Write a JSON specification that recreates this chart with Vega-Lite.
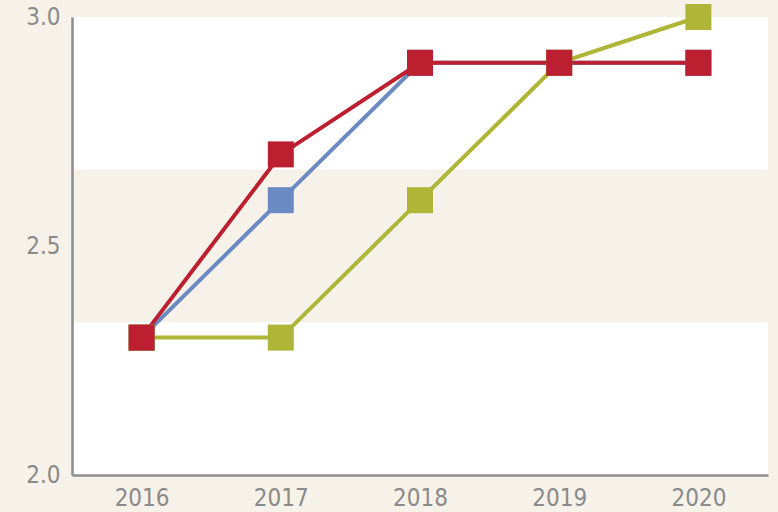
{
  "$schema": "https://vega.github.io/schema/vega-lite/v6.json",
  "width": 696,
  "height": 458,
  "autosize": {"type": "none"},
  "padding": {"left": 72, "top": 17, "right": 10, "bottom": 37},
  "background": "#f6f1e9",
  "config": {
    "view": {"stroke": null, "fill": null},
    "axis": {
      "labelFont": "DejaVu Sans Condensed",
      "labelFontSize": 24,
      "labelColor": "#8a8a8a",
      "domainColor": "#8c8c8c",
      "domainWidth": 2.5,
      "ticks": false,
      "grid": false,
      "title": null
    }
  },
  "datasets": {
    "bands": [
      {"lo": 2.0, "hi": 2.3333},
      {"lo": 2.6667, "hi": 3.0}
    ],
    "series": [
      {"year": "2016", "series": "A", "value": 2.3},
      {"year": "2017", "series": "A", "value": 2.6},
      {"year": "2018", "series": "A", "value": 2.9},
      {"year": "2019", "series": "A", "value": 2.9},
      {"year": "2020", "series": "A", "value": 2.9},
      {"year": "2016", "series": "B", "value": 2.3},
      {"year": "2017", "series": "B", "value": 2.3},
      {"year": "2018", "series": "B", "value": 2.6},
      {"year": "2019", "series": "B", "value": 2.9},
      {"year": "2020", "series": "B", "value": 3.0},
      {"year": "2016", "series": "C", "value": 2.3},
      {"year": "2017", "series": "C", "value": 2.7},
      {"year": "2018", "series": "C", "value": 2.9},
      {"year": "2019", "series": "C", "value": 2.9},
      {"year": "2020", "series": "C", "value": 2.9}
    ]
  },
  "layer": [
    {
      "data": {"name": "bands"},
      "mark": {"type": "rect", "color": "#ffffff"},
      "encoding": {
        "y": {"field": "lo", "type": "quantitative", "scale": {"domain": [2, 3], "nice": false, "zero": false}, "axis": {"values": [2.0, 2.5, 3.0], "format": ".1f", "labelPadding": 12, "zindex": 2}},
        "y2": {"field": "hi"}
      }
    },
    {
      "data": {"name": "series"},
      "layer": [
        {
          "mark": {"type": "line", "strokeWidth": 4},
          "encoding": {
            "x": {"field": "year", "type": "ordinal", "scale": {"type": "point", "padding": 0.5}, "axis": {"labelAngle": 0, "labelPadding": 11, "zindex": 2}},
            "y": {"field": "value", "type": "quantitative", "scale": {"domain": [2, 3], "nice": false, "zero": false}, "axis": {"values": [2.0, 2.5, 3.0], "format": ".1f", "labelPadding": 12, "zindex": 2}},
            "color": {"field": "series", "type": "nominal", "scale": {"domain": ["A", "B", "C"], "range": ["#6b8ac2", "#afb536", "#bc1f2f"]}, "legend": null},
            "detail": {"field": "series"}
          }
        },
        {
          "mark": {"type": "point", "shape": "square", "filled": true, "size": 676, "opacity": 1},
          "encoding": {
            "x": {"field": "year", "type": "ordinal", "scale": {"type": "point", "padding": 0.5}},
            "y": {"field": "value", "type": "quantitative", "scale": {"domain": [2, 3], "nice": false, "zero": false}},
            "color": {"field": "series", "type": "nominal", "scale": {"domain": ["A", "B", "C"], "range": ["#6b8ac2", "#afb536", "#bc1f2f"]}, "legend": null}
          }
        }
      ]
    }
  ]
}
